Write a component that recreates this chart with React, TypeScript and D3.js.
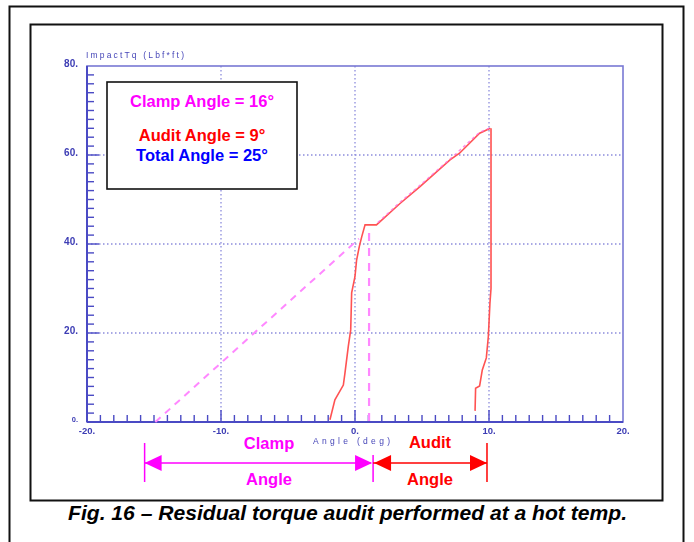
import React from "react";
import * as d3 from "d3";

const clampCurve: [number, number][] = [
  [-1.87, 0.5], [-1.5, 5], [-0.87, 8.3], [-0.75, 11], [-0.5, 17], [-0.32, 20.7],
  [-0.25, 29], [0, 32.7], [0.12, 36.4], [0.32, 39.4], [0.5, 41.6], [0.75, 44.3],
  [1.6, 44.3], [3.36, 49.1], [4.85, 52.9], [7.09, 58.9], [7.8, 60.4], [9.3, 64.9], [10.1, 66],
];
const auditCurve: [number, number][] = [
  [8.96, 2.5], [9.0, 7.6], [9.3, 8.1], [9.5, 11.7], [9.8, 14.4], [9.95, 19.2],
  [10.07, 26.7], [10.15, 30], [10.15, 66],
];
const clampLine: [number, number][] = [[-14.9, 0], [0.3, 41.2]];
const clampVertical: [number, number][] = [[1.05, 42.5], [1.05, 0]];
const overlaySlope: [number, number][] = [[1.7, 44.8], [3.36, 49.4], [4.85, 53.2], [7.09, 59.1], [9.3, 65.1], [10.0, 66]];

const xTicks = [-20, -10, 0, 10, 20];
const xTickLabels = ["-20.", "-10.", "0.", "10.", "20."];
const yTicks = [0, 20, 40, 60, 80];
const yTickLabels = ["0.", "20.", "40.", "60.", "80."];
const gridX = [-10, 0, 10];
const gridY = [20, 40, 60];
const yAxisTitle = "ImpactTq  (Lbf*ft)";
const xAxisTitle = "Angle  (deg)";
const boxLines = ["Clamp Angle = 16°", "Audit Angle = 9°", "Total Angle = 25°"];
const clampSpan = [-15.7, 1.35];
const auditSpan = [1.35, 9.85];
const caption = "Fig. 16 – Residual torque audit performed at a hot temp.";

const W = 694, H = 542;
const L = 87, R = 623, T = 66, B = 422;
const AX = "#4a4ac4";
const FONT = "Arial, 'Liberation Sans', Helvetica, sans-serif";

export default function App() {
  const x = d3.scaleLinear().domain([-20, 20]).range([L, R]);
  const y = d3.scaleLinear().domain([0, 80]).range([B, T]);
  const line = d3.line<[number, number]>().x(d => x(d[0])).y(d => y(d[1]));
  const minorX = d3.range(-20, 21, 1).filter(v => v % 10 !== 0);
  const minorY = d3.range(0, 81, 2).filter(v => v % 20 !== 0);

  const arrowY = 463;
  const head = (tip: number, dir: number, color: string) => (
    <path d={`M${tip},${arrowY} L${tip - dir * 17},${arrowY - 8} L${tip - dir * 17},${arrowY + 8} Z`} fill={color} />
  );

  return (
    <svg width={W} height={H} style={{ position: "absolute", left: 0, top: 0, background: "#fff" }} fontFamily={FONT}>
      <defs>
        <filter id="soft" x="-5%" y="-5%" width="110%" height="110%">
          <feGaussianBlur stdDeviation="0.45" />
        </filter>
      </defs>
      <rect x={0} y={0} width={W} height={H} fill="#fff" />
      {/* outer and inner frames */}
      <rect x={9.5} y={6.5} width={674} height={560} fill="none" stroke="#111" strokeWidth={2} />
      <rect x={30.5} y={24.5} width={632} height={476} fill="none" stroke="#111" strokeWidth={2} />

      {/* grid */}
      <g stroke="#8c8cdc" strokeWidth={1.3} strokeDasharray="1.5,2.5">
        {gridX.map(v => <line key={"gx" + v} x1={x(v)} x2={x(v)} y1={T} y2={B} />)}
        {gridY.map(v => <line key={"gy" + v} x1={L} x2={R} y1={y(v)} y2={y(v)} />)}
      </g>

      {/* frame */}
      <rect x={L} y={T} width={R - L} height={B - T} fill="none" stroke="#7878d4" strokeWidth={1.6} />
      <line x1={L} x2={L} y1={T} y2={B} stroke={AX} strokeWidth={2} />
      <line x1={L} x2={R} y1={B} y2={B} stroke={AX} strokeWidth={2} />

      {/* ticks */}
      <g stroke={AX} strokeWidth={1.4}>
        {minorX.map(v => <line key={"mx" + v} x1={x(v)} x2={x(v)} y1={B} y2={B - 7} />)}
        {[-10, 0, 10].map(v => <line key={"Mx" + v} x1={x(v)} x2={x(v)} y1={B} y2={B - 12} />)}
        {minorY.map(v => <line key={"my" + v} x1={L} x2={L + 7} y1={y(v)} y2={y(v)} />)}
        {[20, 40, 60].map(v => <line key={"My" + v} x1={L} x2={L + 12} y1={y(v)} y2={y(v)} />)}
      </g>

      <g filter="url(#soft)" fill="#3c3cb4" fontWeight="bold">
        {yTicks.map((v, i) => (
          <text key={"yl" + v} x={L - 9} y={y(v) - 2} fontSize={v === 0 ? 7.5 : 10} textAnchor="end" dominantBaseline="middle">{yTickLabels[i]}</text>
        ))}
        {xTicks.map((v, i) => (
          <text key={"xl" + v} x={x(v)} y={B + 9} fontSize={9.5} textAnchor="middle" dominantBaseline="middle">{xTickLabels[i]}</text>
        ))}
        <text x={86} y={58} fontSize={8.5} fontWeight="normal" fill="#4646b8" textLength={98} lengthAdjust="spacing">{yAxisTitle}</text>
        <text x={313} y={444} fontSize={8.5} fontWeight="normal" fill="#4646b8" textLength={77} lengthAdjust="spacing">{xAxisTitle}</text>
      </g>

      {/* data */}
      <path d={line(clampLine) || ""} fill="none" stroke="#ff88ff" strokeWidth={2} strokeDasharray="7,6" />
      <path d={line(clampVertical) || ""} fill="none" stroke="#ff88ff" strokeWidth={2.2} strokeDasharray="8,7" />
      <path d={line(clampCurve) || ""} fill="none" stroke="#ff5252" strokeWidth={1.6} />
      <path d={line(overlaySlope) || ""} fill="none" stroke="#ff70e0" strokeWidth={1.4} strokeDasharray="3,3" opacity={0.8} />
      <path d={line(auditCurve) || ""} fill="none" stroke="#ff5252" strokeWidth={1.6} />

      {/* text box */}
      <rect x={107} y={82} width={190} height={107} fill="#fff" stroke="#111" strokeWidth={1.6} />
      <g fontWeight="bold" fontSize={16.5} textAnchor="middle">
        <text x={202} y={107} fill="#ff00ff">{boxLines[0]}</text>
        <text x={202} y={141} fill="#ff0000">{boxLines[1]}</text>
        <text x={202} y={161} fill="#0000ff">{boxLines[2]}</text>
      </g>

      {/* angle annotations */}
      <line x1={x(clampSpan[0])} x2={x(clampSpan[1]) - 2} y1={arrowY} y2={arrowY} stroke="#ff00ff" strokeWidth={1.5} />
      <line x1={x(clampSpan[0])} x2={x(clampSpan[0])} y1={443} y2={482} stroke="#ff00ff" strokeWidth={1.5} />
      {head(x(clampSpan[0]), -1, "#ff00ff")}
      {head(x(clampSpan[1]) - 1, 1, "#ff00ff")}
      <line x1={x(clampSpan[1])} x2={x(clampSpan[1])} y1={455} y2={482} stroke="#ff00ff" strokeWidth={1.5} />
      <line x1={x(auditSpan[0])} x2={x(auditSpan[1])} y1={arrowY} y2={arrowY} stroke="#ff0000" strokeWidth={1.5} />
      {head(x(auditSpan[0]) + 1, -1, "#ff0000")}
      {head(x(auditSpan[1]), 1, "#ff0000")}
      <line x1={x(auditSpan[1])} x2={x(auditSpan[1])} y1={443} y2={482} stroke="#ff0000" strokeWidth={1.5} />
      <g fontWeight="bold" fontSize={16.5} textAnchor="middle">
        <text x={269} y={449} fill="#ff00ff">Clamp</text>
        <text x={269} y={485} fill="#ff00ff">Angle</text>
        <text x={430} y={448} fill="#ff0000">Audit</text>
        <text x={430} y={485} fill="#ff0000">Angle</text>
      </g>

      <text x={68} y={520} fontSize={20} fontWeight="bold" fontStyle="italic" fill="#000" textLength={559} lengthAdjust="spacingAndGlyphs">{caption}</text>
    </svg>
  );
}
